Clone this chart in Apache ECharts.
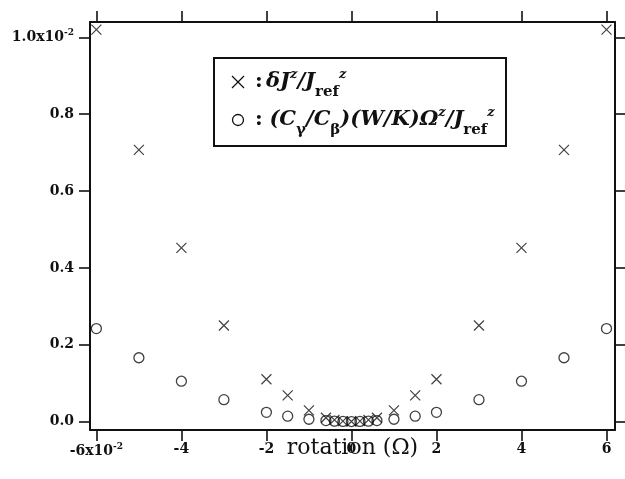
<!DOCTYPE html>
<html>
<head>
<meta charset="utf-8">
<script src="https://cdn.jsdelivr.net/npm/echarts@6/dist/echarts.min.js"></script>
<style>html,body{margin:0;padding:0;background:#fff;}#c{width:625px;height:479px;}</style>
</head>
<body>
<div id="c"></div>
<script>
// rotation (Ω), in units of 1e-2
const rotation = [-6, -5, -4, -3, -2, -1.5, -1, -0.6, -0.4, -0.2, 0, 0.2, 0.4, 0.6, 1, 1.5, 2, 3, 4, 5, 6];
// δJz/Jref z  (units of 1e-2)
const deltaJ = [1.02, 0.707, 0.452, 0.25, 0.11, 0.068, 0.029, 0.010, 0.0045, 0.0012, 0, 0.0012, 0.0045, 0.010, 0.029, 0.068, 0.11, 0.25, 0.452, 0.707, 1.02];
// (Cγ/Cβ)(W/K)Ωz/Jref z
const omegaTerm = [0.242, 0.166, 0.105, 0.057, 0.024, 0.014, 0.006, 0.0025, 0.001, 0.0003, 0, 0.0003, 0.001, 0.0025, 0.006, 0.014, 0.024, 0.057, 0.105, 0.166, 0.242];
const xTicks = [-6, -4, -2, 0, 2, 4, 6];
const yTicks = [0, 0.2, 0.4, 0.6, 0.8, 1.0];

const FONT = '"DejaVu Serif", "Liberation Serif", serif';
const chart = echarts.init(document.getElementById('c'), null, {renderer: 'canvas'});
const lineStyle = {color: '#111', width: 2};
const tickStyle = {color: '#111', width: 1.6};
const supRich = {
  b: {fontFamily: FONT, fontWeight: 'bold', fontSize: 14, color: '#111'},
  s: {fontFamily: FONT, fontWeight: 'bold', fontSize: 9, color: '#111', padding: [0, 0, 9, 0]}
};
const xRange = {min: -6.15, max: 6.2};
const yRange = {min: -0.022, max: 1.04};

const legRich = {
  n: {fontFamily: FONT, fontWeight: 'bold', fontSize: 21, fill: '#111'},
  i: {fontFamily: FONT, fontWeight: 'bold', fontStyle: 'italic', fontSize: 21, fill: '#111'},
  sp: {fontFamily: FONT, fontWeight: 'bold', fontStyle: 'italic', fontSize: 13, fill: '#111', padding: [0, 0, 14, 0]},
  sb: {fontFamily: FONT, fontWeight: 'bold', fontSize: 15, fill: '#111', padding: [20, 0, 0, 0]}
};

chart.setOption({
  animation: false,
  grid: {left: 90, right: 10, top: 22, bottom: 49, containLabel: false, outerBoundsMode: 'none'},
  xAxis: [
    Object.assign({
      type: 'value', position: 'bottom',
      axisLine: {show: true, onZero: false, lineStyle},
      axisTick: {show: true, inside: false, length: 11, lineStyle: tickStyle, customValues: xTicks},
      axisLabel: {show: true, margin: 12, customValues: xTicks, rich: supRich,
        fontFamily: FONT, fontWeight: 'bold', fontSize: 14, color: '#111',
        formatter: v => v === -6 ? '{b|-6x10}{s|-2}' : '{b|' + String(v) + '}'},
      splitLine: {show: false},
      name: 'rotation (\u03A9)', nameLocation: 'middle', nameGap: 18, nameMoveOverlap: false,
      nameTextStyle: {fontFamily: FONT, fontSize: 22, color: '#111', verticalAlign: 'middle'}
    }, xRange),
    Object.assign({
      type: 'value', position: 'top',
      axisLine: {show: true, onZero: false, lineStyle},
      axisTick: {show: true, inside: false, length: 11, lineStyle: tickStyle, customValues: xTicks},
      axisLabel: {show: false},
      splitLine: {show: false}
    }, xRange)
  ],
  yAxis: [
    Object.assign({
      type: 'value', position: 'left',
      axisLine: {show: true, onZero: false, lineStyle},
      axisTick: {show: true, inside: false, length: 11, lineStyle: tickStyle, customValues: yTicks},
      axisLabel: {show: true, margin: 16, customValues: yTicks, rich: supRich,
        fontFamily: FONT, fontWeight: 'bold', fontSize: 14, color: '#111',
        formatter: v => Math.abs(v - 1) < 1e-9 ? '{b|1.0x10}{s|-2}' : '{b|' + v.toFixed(1) + '}'},
      splitLine: {show: false}
    }, yRange),
    Object.assign({
      type: 'value', position: 'right',
      axisLine: {show: true, onZero: false, lineStyle},
      axisTick: {show: true, inside: false, length: 11, lineStyle: tickStyle, customValues: yTicks},
      axisLabel: {show: false},
      splitLine: {show: false}
    }, yRange)
  ],
  series: [
    {
      type: 'scatter', name: 'deltaJ',
      data: rotation.map((x, i) => [x, deltaJ[i]]),
      symbol: 'path://M0,0L10,10M10,0L0,10', symbolSize: 10,
      itemStyle: {color: 'rgba(0,0,0,0)', borderColor: '#111', borderWidth: 1.2},
      clip: false
    },
    {
      type: 'scatter', name: 'omega',
      data: rotation.map((x, i) => [x, omegaTerm[i]]),
      symbol: 'circle', symbolSize: 10,
      itemStyle: {color: 'rgba(0,0,0,0)', borderColor: '#111', borderWidth: 1.3},
      clip: false
    }
  ],
  graphic: [
    {type: 'rect', shape: {x: 214, y: 58, width: 292, height: 88},
     style: {fill: '#fff', stroke: '#111', lineWidth: 2}},
    {type: 'polyline', shape: {points: [[232, 76], [244, 88]]}, style: {stroke: '#111', lineWidth: 1.3}},
    {type: 'polyline', shape: {points: [[244, 76], [232, 88]]}, style: {stroke: '#111', lineWidth: 1.3}},
    {type: 'circle', shape: {cx: 238, cy: 120, r: 5.5}, style: {fill: 'none', stroke: '#111', lineWidth: 1.3}},
    {type: 'text', x: 255, y: 82, style: {
      text: '{n|:} {i|\u03B4J}{sp|z}{i|/J}{sb|ref}{sp|z}',
      verticalAlign: 'middle', rich: legRich
    }},
    {type: 'text', x: 255, y: 120, style: {
      text: '{n|:}  {i|(C}{sb|\u03B3}{i|/C}{sb|\u03B2}{i|)(W/K)\u03A9}{sp|z}{i|/J}{sb|ref}{sp|z}',
      verticalAlign: 'middle', rich: legRich
    }}
  ]
});
</script>
</body>
</html>
